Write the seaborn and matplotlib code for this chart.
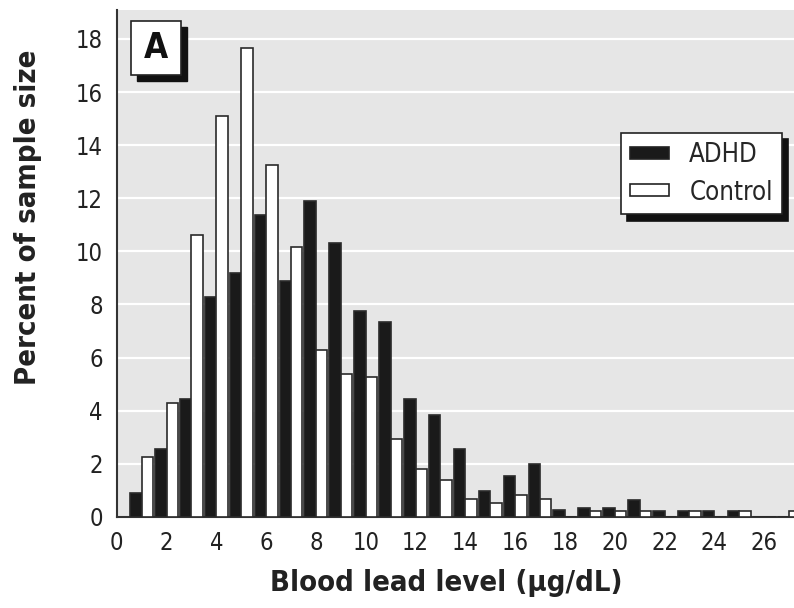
import matplotlib
matplotlib.use('Agg')
import matplotlib.pyplot as plt
import seaborn as sns
import pandas as pd
from matplotlib.patches import Patch, Rectangle

# Blood lead level bins (ug/dL) and percent of sample size per group
levels = list(range(1, 28))
adhd = [0.9, 2.57, 4.45, 8.27, 9.2, 11.37, 8.88, 11.9, 10.33, 7.77,
        7.32, 4.45, 3.85, 2.57, 0.99, 1.52, 1.97, 0.24, 0.35, 0.35,
        0.65, 0.2, 0.2, 0.2, 0.2, 0.0, 0.0]
control = [2.24, 4.29, 10.6, 15.1, 17.67, 13.24, 10.18, 6.3, 5.39, 5.26,
           2.93, 1.8, 1.37, 0.68, 0.53, 0.82, 0.68, 0.0, 0.2, 0.2,
           0.2, 0.0, 0.2, 0.0, 0.2, 0.0, 0.2]
groups = ['ADHD', 'Control']
xticks = list(range(0, 27, 2))
yticks = list(range(0, 19, 2))
panel_label = 'A'

df = pd.DataFrame({'level': levels * 2,
                   'pct': adhd + control,
                   'group': [groups[0]] * len(levels) + [groups[1]] * len(levels)})

sns.set_theme(style='white')
plt.rcParams['font.family'] = ['DejaVu Sans']
plt.rcParams['font.stretch'] = 'condensed'

fig = plt.figure(figsize=(7.94, 6.08), dpi=100)
ax = fig.add_axes([0.147, 0.150, 0.853, 0.834])
ax.set_facecolor('#e6e6e6')

palette = {'ADHD': '#1a1a1a', 'Control': 'white'}
sns.barplot(data=df, x='level', y='pct', hue='group', native_scale=True,
            palette=palette, edgecolor='#2a2a2a', linewidth=1.2, width=0.92,
            errorbar=None, ax=ax, zorder=3)

ax.set_xlim(0, 27.2)
ax.set_ylim(0, 19.1)
ax.set_xticks(xticks)
ax.set_yticks(yticks)
ax.yaxis.grid(True, color='white', linewidth=1.6, zorder=0)
ax.xaxis.grid(False)
ax.set_axisbelow(True)
ax.tick_params(length=0, labelsize=17, colors='#222222', pad=10)

for s in ['top', 'right']:
    ax.spines[s].set_visible(False)
for s in ['left', 'bottom']:
    ax.spines[s].set_color('#333333')
    ax.spines[s].set_linewidth(1.5)

ax.set_xlabel('Blood lead level (µg/dL)', fontsize=21, fontweight='bold',
              color='#222222')
ax.set_ylabel('Percent of sample size', fontsize=21, fontweight='bold',
              color='#222222')
ax.xaxis.set_label_coords(0.486, -0.102)
ax.yaxis.set_label_coords(-0.111, 0.59)

# legend with solid drop shadow
handles = [Patch(facecolor=palette[g], edgecolor='#222222', linewidth=1.2, label=g)
           for g in groups]
ax.legend(handles=handles, loc='upper right', bbox_to_anchor=(0.982, 0.757),
          borderaxespad=0, fontsize=18.5, frameon=True, fancybox=False,
          edgecolor='#222222', framealpha=1, handlelength=1.5, handleheight=0.32,
          handletextpad=0.8, borderpad=0.35, labelspacing=0.45,
          shadow={'color': '#111111', 'alpha': 1, 'ox': 4.5, 'oy': -4.5})
ax.get_legend().get_frame().set_linewidth(1.2)

# panel label box with drop shadow
bx, by, bw, bh = 0.0207, 0.872, 0.0739, 0.106
ax.add_patch(Rectangle((bx + 0.0089, by - 0.0118), bw, bh, transform=ax.transAxes,
                       facecolor='#111111', edgecolor='#111111', zorder=5))
ax.add_patch(Rectangle((bx, by), bw, bh, transform=ax.transAxes,
                       facecolor='white', edgecolor='#222222', linewidth=1.2, zorder=6))
ax.text(bx + bw / 2, by + bh / 2, panel_label, transform=ax.transAxes,
        ha='center', va='center', fontsize=25, fontweight='bold',
        color='#111111', zorder=7)

fig.savefig('out.png', dpi=100)
